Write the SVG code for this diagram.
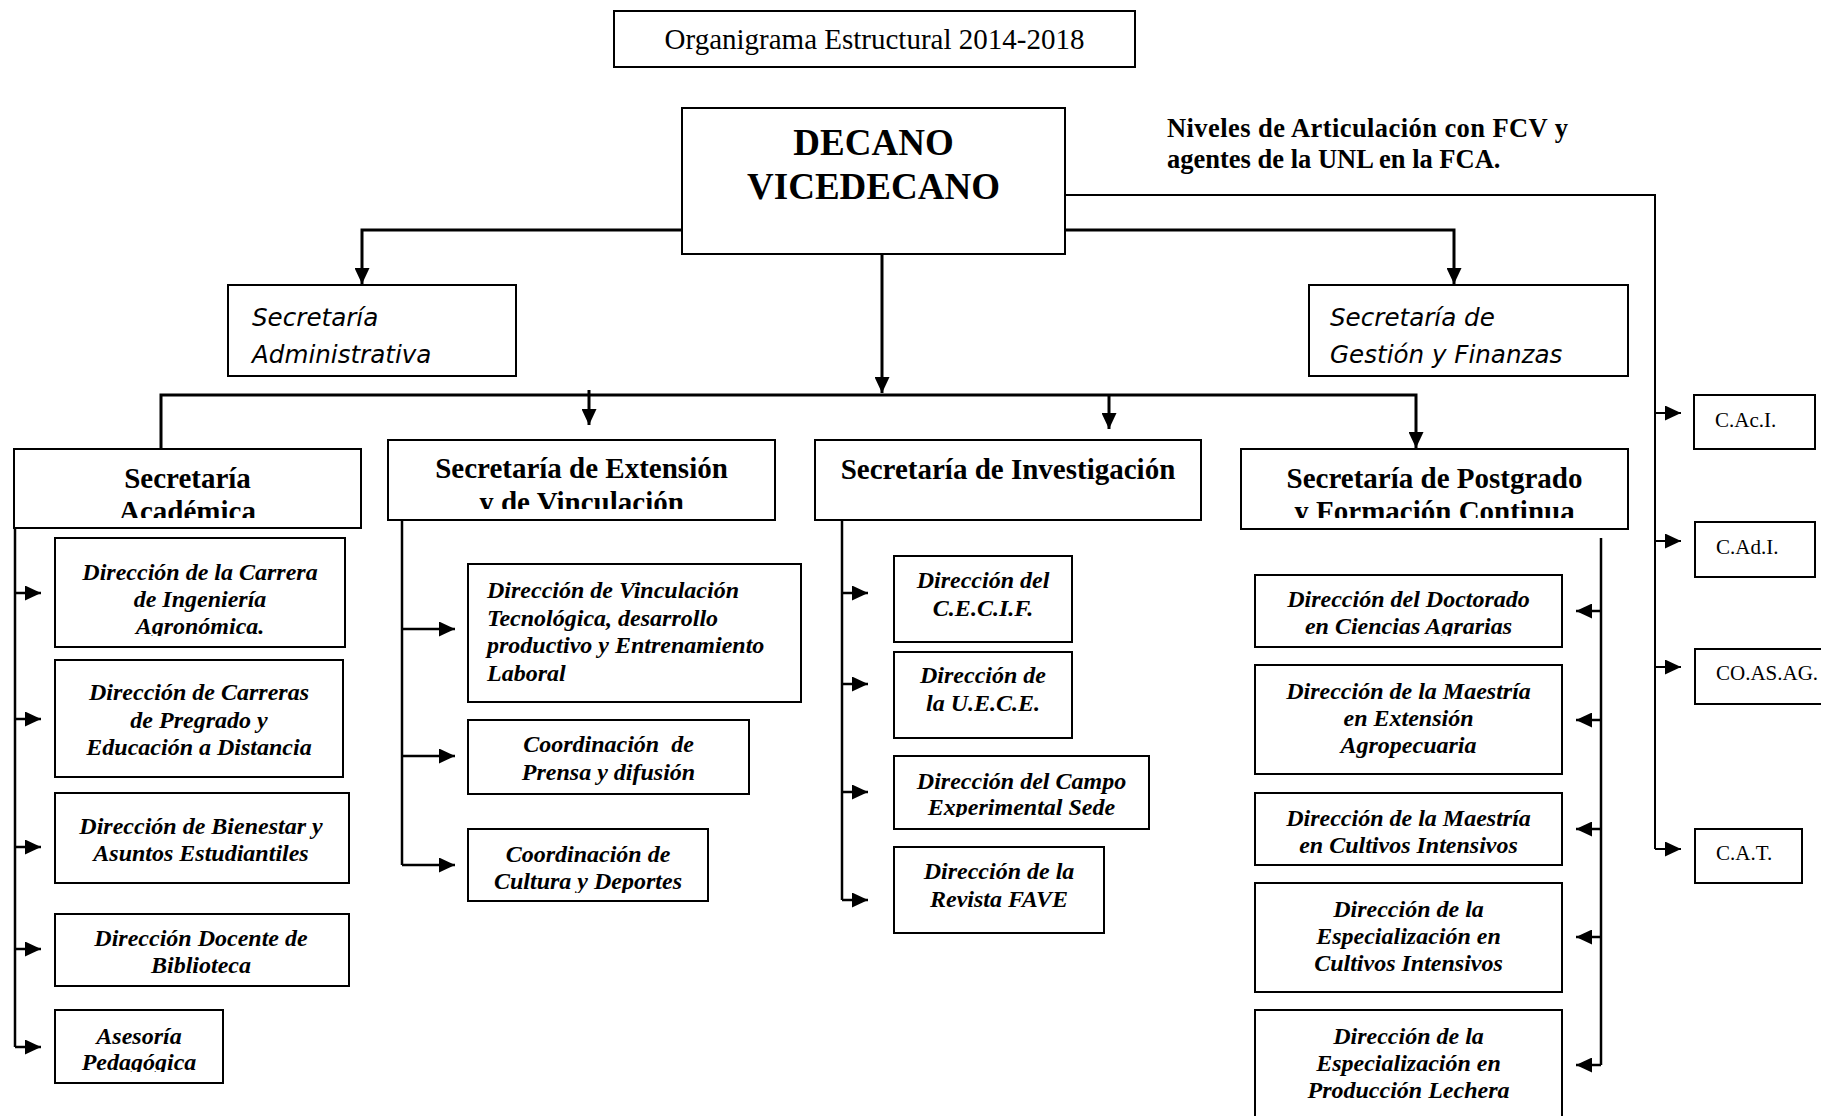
<svg xmlns="http://www.w3.org/2000/svg" width="1821" height="1116" viewBox="0 0 1821 1116">
<style>
.bx{fill:#fff;stroke:#000;stroke-width:2}
.ln{fill:none;stroke:#000;stroke-width:3}
.lt{fill:none;stroke:#000;stroke-width:2.5}
.lr{fill:none;stroke:#000;stroke-width:2}
.ti{font-family:"Liberation Serif","Times New Roman",serif;font-size:29px}
.dec{font-family:"Liberation Serif","Times New Roman",serif;font-size:37px;font-weight:bold;text-anchor:middle}
.niv{font-family:"Liberation Serif","Times New Roman",serif;font-size:26.5px;font-weight:bold}
.sec{font-family:"Liberation Serif","Times New Roman",serif;font-size:29px;font-weight:bold;text-anchor:middle}
.cs{font-family:"DejaVu Sans","Noto Sans",sans-serif;font-size:24.6px;font-style:italic}
.bi{font-family:"Liberation Serif","Times New Roman",serif;font-size:24px;font-weight:bold;font-style:italic;text-anchor:middle}
.bl{font-family:"Liberation Serif","Times New Roman",serif;font-size:24px;font-weight:bold;font-style:italic}
.cc{font-family:"Liberation Serif","Times New Roman",serif;font-size:21px}
</style>
<defs>
<marker id="arr" viewBox="0 0 16 15" refX="16" refY="7.5" markerWidth="16" markerHeight="15" markerUnits="userSpaceOnUse" orient="auto">
<path d="M0,0 L16,7.5 L0,15 Z" fill="#000"/>
</marker>
<clipPath id="cAca"><rect x="14" y="449" width="347" height="69"/></clipPath>
<clipPath id="cExt"><rect x="388" y="440" width="387" height="69"/></clipPath>
<clipPath id="cPos"><rect x="1241" y="449" width="387" height="69"/></clipPath>
<clipPath id="cA1"><rect x="55" y="538" width="290" height="98"/></clipPath>
<clipPath id="cA5"><rect x="55" y="1010" width="168" height="62"/></clipPath>
<clipPath id="cE3"><rect x="468" y="829" width="240" height="64"/></clipPath>
<clipPath id="cI3"><rect x="894" y="756" width="255" height="61"/></clipPath>
<clipPath id="cP1"><rect x="1255" y="575" width="307" height="61"/></clipPath>
</defs>
<rect width="1821" height="1116" fill="#fff"/>

<g id="connectors">
<path class="ln" d="M682,230 H362 V284" marker-end="url(#arr)"/>
<path class="ln" d="M1065,230 H1454 V284" marker-end="url(#arr)"/>
<path class="ln" d="M882,254 V393" marker-end="url(#arr)"/>
<path class="ln" d="M161,449 V395 H1416 V448" marker-end="url(#arr)"/>
<path class="ln" d="M589,390 V425" marker-end="url(#arr)"/>
<path class="ln" d="M1109,395 V429" marker-end="url(#arr)"/>
<path class="lr" d="M1066,195 H1655 V849"/>
<path class="lr" d="M1655,413 H1681" marker-end="url(#arr)"/>
<path class="lr" d="M1655,541 H1681" marker-end="url(#arr)"/>
<path class="lr" d="M1655,667 H1681" marker-end="url(#arr)"/>
<path class="lr" d="M1655,849 H1681" marker-end="url(#arr)"/>
<path class="lt" d="M15,528 V1047"/>
<path class="lt" d="M15,593 H41" marker-end="url(#arr)"/>
<path class="lt" d="M15,719 H41" marker-end="url(#arr)"/>
<path class="lt" d="M15,847 H41" marker-end="url(#arr)"/>
<path class="lt" d="M15,949 H41" marker-end="url(#arr)"/>
<path class="lt" d="M15,1047 H41" marker-end="url(#arr)"/>
<path class="lt" d="M402,520 V865"/>
<path class="lt" d="M402,629 H455" marker-end="url(#arr)"/>
<path class="lt" d="M402,756 H455" marker-end="url(#arr)"/>
<path class="lt" d="M402,865 H455" marker-end="url(#arr)"/>
<path class="lt" d="M842,520 V900"/>
<path class="lt" d="M842,593 H868" marker-end="url(#arr)"/>
<path class="lt" d="M842,684 H868" marker-end="url(#arr)"/>
<path class="lt" d="M842,792 H868" marker-end="url(#arr)"/>
<path class="lt" d="M842,900 H868" marker-end="url(#arr)"/>
<path class="lt" d="M1601,538 V1065"/>
<path class="lt" d="M1601,611 H1576" marker-end="url(#arr)"/>
<path class="lt" d="M1601,720 H1576" marker-end="url(#arr)"/>
<path class="lt" d="M1601,829 H1576" marker-end="url(#arr)"/>
<path class="lt" d="M1601,937 H1576" marker-end="url(#arr)"/>
<path class="lt" d="M1601,1065 H1576" marker-end="url(#arr)"/>
</g>

<g id="titulo">
<rect class="bx" x="614" y="11" width="521" height="56"/>
<text class="ti" x="874.5" y="49" text-anchor="middle">Organigrama Estructural 2014-2018</text>
</g>

<g id="decano">
<rect class="bx" x="682" y="108" width="383" height="146"/>
<text class="dec" x="873.5" y="155">DECANO</text>
<text class="dec" x="873.5" y="199">VICEDECANO</text>
</g>

<g id="niveles">
<text class="niv" x="1167" y="137" textLength="401" lengthAdjust="spacing">Niveles de Articulación con FCV y</text>
<text class="niv" x="1167" y="168">agentes de la UNL en la FCA.</text>
</g>

<g id="sec-administrativa">
<rect class="bx" x="228" y="285" width="288" height="91"/>
<text class="cs" x="252" y="326">Secretaría</text>
<text class="cs" x="252" y="363">Administrativa</text>
</g>

<g id="sec-gestion">
<rect class="bx" x="1309" y="285" width="319" height="91"/>
<text class="cs" x="1330" y="326">Secretaría de</text>
<text class="cs" x="1330" y="363">Gestión y Finanzas</text>
</g>

<g id="sec-academica">
<rect class="bx" x="14" y="449" width="347" height="79"/>
<g clip-path="url(#cAca)">
<text class="sec" x="187.5" y="488">Secretaría</text>
<text class="sec" x="187.5" y="521">Académica</text>
</g>
</g>

<g id="sec-extension">
<rect class="bx" x="388" y="440" width="387" height="80"/>
<g clip-path="url(#cExt)">
<text class="sec" x="581.5" y="478">Secretaría de Extensión</text>
<text class="sec" x="581.5" y="512">y de Vinculación</text>
</g>
</g>

<g id="sec-investigacion">
<rect class="bx" x="815" y="440" width="386" height="80"/>
<text class="sec" x="1008" y="479">Secretaría de Investigación</text>
</g>

<g id="sec-postgrado">
<rect class="bx" x="1241" y="449" width="387" height="80"/>
<g clip-path="url(#cPos)">
<text class="sec" x="1434.5" y="488">Secretaría de Postgrado</text>
<text class="sec" x="1434.5" y="521">y Formación Continua</text>
</g>
</g>

<g id="c-aci">
<rect class="bx" x="1694" y="395" width="121" height="54"/>
<text class="cc" x="1715" y="427">C.Ac.I.</text>
</g>
<g id="c-adi">
<rect class="bx" x="1695" y="522" width="120" height="55"/>
<text class="cc" x="1716" y="554">C.Ad.I.</text>
</g>
<g id="c-coasag">
<rect class="bx" x="1695" y="649" width="140" height="55"/>
<text class="cc" x="1716" y="680">CO.AS.AG.</text>
</g>
<g id="c-cat">
<rect class="bx" x="1695" y="829" width="107" height="54"/>
<text class="cc" x="1716" y="860">C.A.T.</text>
</g>

<g id="dir-carrera-ingenieria">
<rect class="bx" x="55" y="538" width="290" height="109"/>
<g clip-path="url(#cA1)">
<text class="bi" x="200" y="580">Dirección de la Carrera</text>
<text class="bi" x="200" y="607">de Ingeniería</text>
<text class="bi" x="200" y="634">Agronómica.</text>
</g>
</g>
<g id="dir-carreras-pregrado">
<rect class="bx" x="55" y="660" width="288" height="117"/>
<text class="bi" x="199" y="700">Dirección de Carreras</text>
<text class="bi" x="199" y="728">de Pregrado y</text>
<text class="bi" x="199" y="755">Educación a Distancia</text>
</g>
<g id="dir-bienestar">
<rect class="bx" x="55" y="793" width="294" height="90"/>
<text class="bi" x="201" y="834">Dirección de Bienestar y</text>
<text class="bi" x="201" y="861">Asuntos Estudiantiles</text>
</g>
<g id="dir-biblioteca">
<rect class="bx" x="55" y="914" width="294" height="72"/>
<text class="bi" x="201" y="946">Dirección Docente de</text>
<text class="bi" x="201" y="973">Biblioteca</text>
</g>
<g id="asesoria-pedagogica">
<rect class="bx" x="55" y="1010" width="168" height="73"/>
<g clip-path="url(#cA5)">
<text class="bi" x="139" y="1044">Asesoría</text>
<text class="bi" x="139" y="1070">Pedagógica</text>
</g>
</g>

<g id="dir-vinculacion">
<rect class="bx" x="468" y="564" width="333" height="138"/>
<text class="bl" x="487" y="598">Dirección de Vinculación</text>
<text class="bl" x="487" y="625.5">Tecnológica, desarrollo</text>
<text class="bl" x="487" y="653">productivo y Entrenamiento</text>
<text class="bl" x="487" y="680.5">Laboral</text>
</g>
<g id="coord-prensa">
<rect class="bx" x="468" y="720" width="281" height="74"/>
<text class="bi" x="608.5" y="752" style="white-space:pre">Coordinación  de</text>
<text class="bi" x="608.5" y="780">Prensa y difusión</text>
</g>
<g id="coord-cultura">
<rect class="bx" x="468" y="829" width="240" height="72"/>
<g clip-path="url(#cE3)">
<text class="bi" x="588" y="862">Coordinación de</text>
<text class="bi" x="588" y="889">Cultura y Deportes</text>
</g>
</g>

<g id="dir-cecif">
<rect class="bx" x="894" y="556" width="178" height="86"/>
<text class="bi" x="983" y="588">Dirección del</text>
<text class="bi" x="983" y="616">C.E.C.I.F.</text>
</g>
<g id="dir-uece">
<rect class="bx" x="894" y="652" width="178" height="86"/>
<text class="bi" x="983" y="683">Dirección de</text>
<text class="bi" x="983" y="711">la U.E.C.E.</text>
</g>
<g id="dir-campo">
<rect class="bx" x="894" y="756" width="255" height="73"/>
<g clip-path="url(#cI3)">
<text class="bi" x="1021.5" y="789">Dirección del Campo</text>
<text class="bi" x="1021.5" y="815">Experimental Sede</text>
</g>
</g>
<g id="dir-revista">
<rect class="bx" x="894" y="847" width="210" height="86"/>
<text class="bi" x="999" y="879">Dirección de la</text>
<text class="bi" x="999" y="907">Revista FAVE</text>
</g>

<g id="dir-doctorado">
<rect class="bx" x="1255" y="575" width="307" height="72"/>
<g clip-path="url(#cP1)">
<text class="bi" x="1408.5" y="607">Dirección del Doctorado</text>
<text class="bi" x="1408.5" y="634">en Ciencias Agrarias</text>
</g>
</g>
<g id="dir-maestria-extension">
<rect class="bx" x="1255" y="665" width="307" height="109"/>
<text class="bi" x="1408.5" y="699">Dirección de la Maestría</text>
<text class="bi" x="1408.5" y="726">en Extensión</text>
<text class="bi" x="1408.5" y="753">Agropecuaria</text>
</g>
<g id="dir-maestria-cultivos">
<rect class="bx" x="1255" y="793" width="307" height="72"/>
<text class="bi" x="1408.5" y="826">Dirección de la Maestría</text>
<text class="bi" x="1408.5" y="853">en Cultivos Intensivos</text>
</g>
<g id="dir-esp-cultivos">
<rect class="bx" x="1255" y="883" width="307" height="109"/>
<text class="bi" x="1408.5" y="917">Dirección de la</text>
<text class="bi" x="1408.5" y="944">Especialización en</text>
<text class="bi" x="1408.5" y="971">Cultivos Intensivos</text>
</g>
<g id="dir-esp-lechera">
<rect class="bx" x="1255" y="1010" width="307" height="120"/>
<text class="bi" x="1408.5" y="1044">Dirección de la</text>
<text class="bi" x="1408.5" y="1071">Especialización en</text>
<text class="bi" x="1408.5" y="1098">Producción Lechera</text>
</g>
</svg>
